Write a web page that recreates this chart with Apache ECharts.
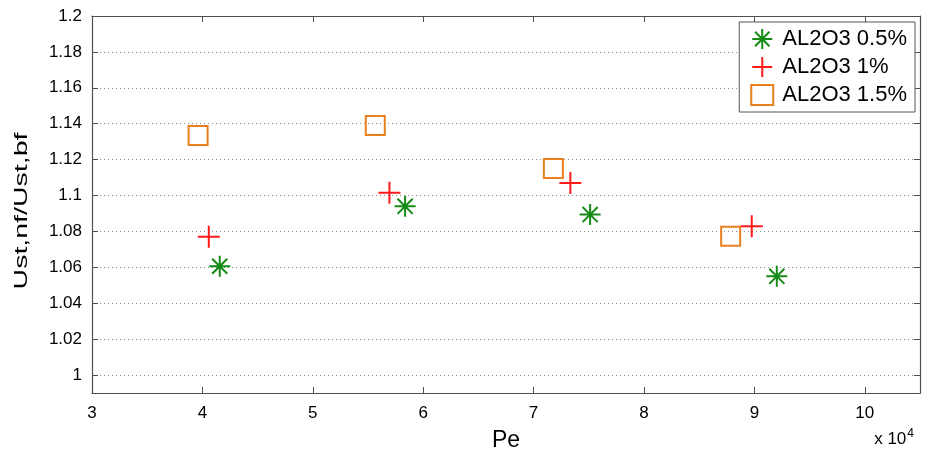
<!DOCTYPE html>
<html>
<head>
<meta charset="utf-8">
<script src="https://cdn.jsdelivr.net/npm/echarts@6/dist/echarts.min.js"></script>
<style>
  html, body { margin: 0; padding: 0; background: #fff; }
  #chart { width: 930px; height: 450px; }
</style>
</head>
<body>
<div id="chart"></div>
<script>
// Peclet numbers and velocity ratios for each Al2O3 concentration
const seriesNames = ['AL2O3 0.5%', 'AL2O3 1%', 'AL2O3 1.5%'];
const pe05 = [41570, 58360, 75120, 92030];
const ratio05 = [1.0606, 1.094, 1.0894, 1.055];
const pe10 = [40580, 56940, 73330, 89760];
const ratio10 = [1.077, 1.1015, 1.107, 1.0829];
const pe15 = [39610, 55660, 71790, 87850];
const ratio15 = [1.1335, 1.139, 1.115, 1.0773];

const xMin = 30000, xMax = 105000, xStep = 10000;
const yMin = 0.99, yMax = 1.2;
const yTitle = 'Ust,nf/Ust,bf';

const axisColor = '#505050';
const font = 'Liberation Sans, Arial, sans-serif';

function pairs(xs, ys) { return xs.map((x, i) => [x, ys[i]]); }

const starPath = 'path://M0,-1L0,1M-1,0L1,0M-0.72,-0.72L0.72,0.72M-0.72,0.72L0.72,-0.72';
const plusPath = 'path://M0,-1L0,1M-1,0L1,0';

const frameAxis = {
  axisLine: { show: true, lineStyle: { color: axisColor, width: 1.2 } },
  axisTick: { show: true, inside: true, length: 6, lineStyle: { color: axisColor } },
  axisLabel: { show: false },
  splitLine: { show: false }
};

const chart = echarts.init(document.getElementById('chart'), null, { renderer: 'canvas' });
chart.setOption({
  animation: false,
  backgroundColor: '#ffffff',
  title: {
    text: 'x 10{sup|4}',
    right: 11,
    top: 423,
    textStyle: {
      fontFamily: font, fontSize: 17, fontWeight: 'normal', color: '#000',
      rich: { sup: { fontFamily: font, fontSize: 12, color: '#000', verticalAlign: 'top', padding: [0, 0, 11, 1] } }
    }
  },
  // rotated, stretched y-axis title
  graphic: [{
    type: 'text',
    x: 22,
    y: 211,
    rotation: Math.PI / 2,
    scaleX: 1.5,
    style: {
      text: yTitle,
      fontFamily: font,
      fontSize: 19,
      fill: '#000',
      align: 'center',
      verticalAlign: 'middle'
    }
  }],
  grid: { left: 92, right: 10, top: 16, bottom: 57, containLabel: false, outerBoundsMode: 'none' },
  legend: {
    orient: 'vertical',
    right: 15,
    top: 22,
    padding: [6, 8, 6, 11],
    itemGap: 6,
    itemWidth: 22,
    itemHeight: 20,
    backgroundColor: '#fff',
    borderColor: '#555',
    borderWidth: 1,
    borderRadius: 0,
    textStyle: { fontFamily: font, fontSize: 22, color: '#000', padding: [0, 0, 0, 4] },
    data: seriesNames
  },
  xAxis: [
    {
      type: 'value', position: 'bottom', min: xMin, max: xMax, interval: xStep,
      name: 'Pe', nameLocation: 'middle', nameGap: 36,
      nameTextStyle: { fontFamily: font, fontSize: 23, color: '#000' },
      axisLine: { show: true, onZero: false, lineStyle: { color: axisColor, width: 1.2 } },
      axisTick: { show: true, inside: true, length: 6, lineStyle: { color: axisColor } },
      axisLabel: {
        fontFamily: font, fontSize: 17, color: '#000', margin: 12,
        showMaxLabel: false,
        formatter: v => (v % xStep === 0 ? String(v / 10000) : '')
      },
      splitLine: { show: false }
    },
    Object.assign({ type: 'value', position: 'top', min: xMin, max: xMax, interval: xStep }, frameAxis)
  ],
  yAxis: [
    {
      type: 'value', position: 'left', min: yMin, max: yMax, splitNumber: 10,
      axisLine: { show: true, onZero: false, lineStyle: { color: axisColor, width: 1.2 } },
      axisTick: { show: true, inside: true, length: 6, lineStyle: { color: axisColor } },
      axisLabel: {
        fontFamily: font, fontSize: 17, color: '#000', margin: 10,
        showMinLabel: false,
        formatter: v => (v < 0.995 ? '' : String(+v.toFixed(2)))
      },
      splitLine: { show: true, lineStyle: { color: '#8a8a8a', type: [1, 3], width: 1 } }
    },
    Object.assign({ type: 'value', position: 'right', min: yMin, max: yMax, splitNumber: 10 }, frameAxis)
  ],
  series: [
    {
      name: seriesNames[0], type: 'scatter', data: pairs(pe05, ratio05),
      symbol: starPath, symbolSize: 21,
      itemStyle: { color: 'rgba(0,0,0,0)', borderColor: '#158a15', borderWidth: 2, opacity: 1 }
    },
    {
      name: seriesNames[1], type: 'scatter', data: pairs(pe10, ratio10),
      symbol: plusPath, symbolSize: 22,
      itemStyle: { color: 'rgba(0,0,0,0)', borderColor: '#ff1a1a', borderWidth: 2, opacity: 1 }
    },
    {
      name: seriesNames[2], type: 'scatter', data: pairs(pe15, ratio15),
      symbol: 'rect', symbolSize: 19,
      itemStyle: { color: 'rgba(0,0,0,0)', borderColor: '#e8801e', borderWidth: 2, opacity: 1 }
    }
  ]
});
</script>
</body>
</html>
